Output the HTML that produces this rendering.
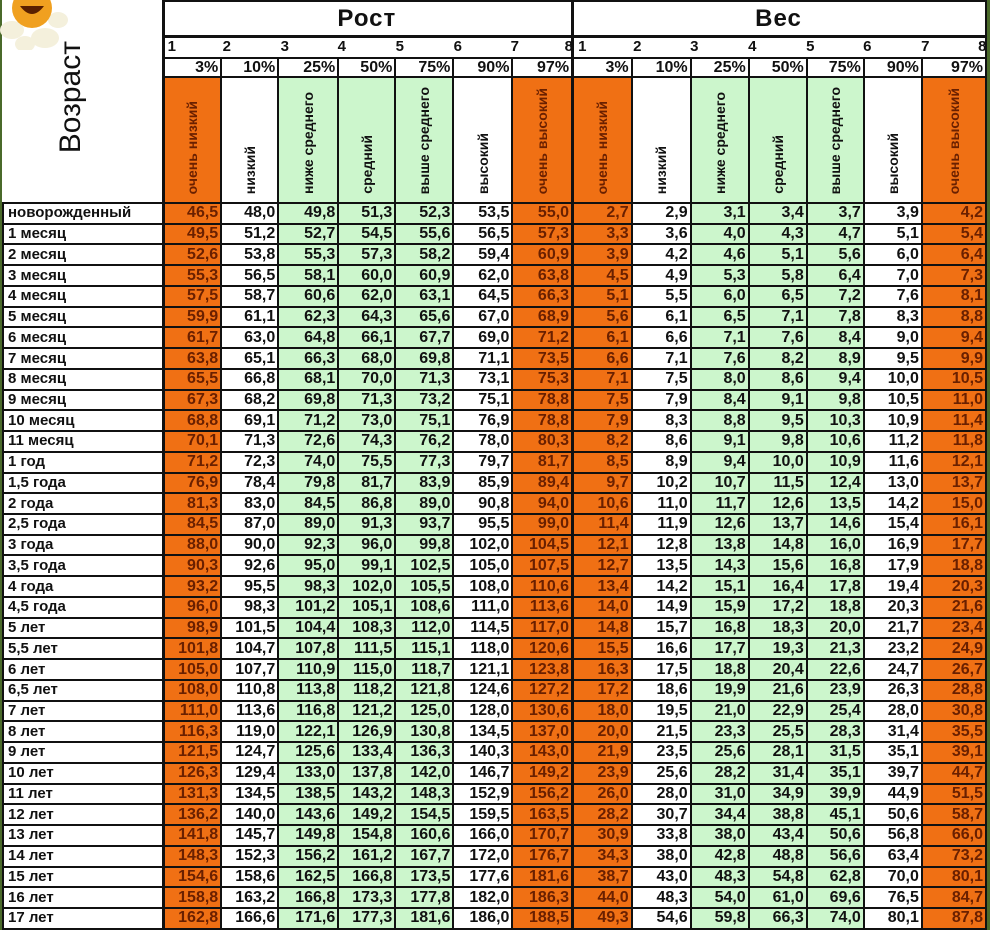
<!DOCTYPE html>
<html><head><meta charset="utf-8"><style>
html,body{margin:0;padding:0;}
body{width:990px;height:930px;background:#4a6a2a;position:relative;overflow:hidden;font-family:"Liberation Sans",Arial,sans-serif;}
table{position:absolute;left:2px;top:0;border-collapse:collapse;table-layout:fixed;width:985px;background:#fff;}
td{border:2px solid #111;padding:0 2px 0 0;font-weight:bold;font-size:16px;text-align:right;white-space:nowrap;overflow:hidden;line-height:16px;color:#111;}
tr.d td{height:18.74px;}
td.n{text-align:left;padding-left:4px;font-size:15px;}
td.o{background:#f07014;color:#6a2000;}
td.g{background:#ccf6cc;}
td.w{background:#fff;}
.th{font-size:24px;text-align:center;height:33px;border-bottom:3px solid #111;letter-spacing:1px;}
.num{height:19px;position:relative;padding:0;}
.num span{position:absolute;top:1px;font-size:15px;}
.pc td{height:17px;font-size:16px;}
.lab td{height:124px;vertical-align:bottom;text-align:center;padding:0;}
.v{writing-mode:vertical-rl;transform:rotate(180deg);font-size:14px;display:inline-block;padding-top:4px;}
.vz{writing-mode:vertical-rl;transform:rotate(180deg);font-size:30px;font-weight:normal;display:inline-block;}
.thick{border-left:3px solid #111;}
.flower{position:absolute;left:0;top:0;width:70px;height:50px;}
</style></head><body>
<table>
<colgroup><col style="width:160px"><col style="width:58px"><col style="width:57px"><col style="width:60px"><col style="width:57px"><col style="width:58px"><col style="width:59px"><col style="width:60px"><col style="width:59px"><col style="width:59px"><col style="width:58px"><col style="width:58px"><col style="width:57px"><col style="width:58px"><col style="width:64px"></colgroup>
<tr><td rowspan="4" style="border-left:none;border-top:none;text-align:left;vertical-align:top;padding:40px 0 0 60px;"><span class="vz">Возраст</span></td><td colspan="7" class="th thick">Рост</td><td colspan="7" class="th thick">Вес</td></tr>
<tr><td colspan="7" class="num thick"><span style="left:3px">1</span><span style="left:58px">2</span><span style="left:116px">3</span><span style="left:173px">4</span><span style="left:231px">5</span><span style="left:289px">6</span><span style="left:346px">7</span><span style="left:400px">8</span></td><td colspan="7" class="num thick"><span style="left:4px">1</span><span style="left:59px">2</span><span style="left:116px">3</span><span style="left:174px">4</span><span style="left:232px">5</span><span style="left:289px">6</span><span style="left:347px">7</span><span style="left:404px">8</span></td></tr>
<tr class="pc"><td class="thick">3%</td><td>10%</td><td>25%</td><td>50%</td><td>75%</td><td>90%</td><td>97%</td><td class="thick">3%</td><td>10%</td><td>25%</td><td>50%</td><td>75%</td><td>90%</td><td>97%</td></tr>
<tr class="lab"><td class="o thick"><span class="v">очень низкий</span></td><td class="w"><span class="v">низкий</span></td><td class="g"><span class="v">ниже среднего</span></td><td class="g"><span class="v">средний</span></td><td class="g"><span class="v">выше среднего</span></td><td class="w"><span class="v">высокий</span></td><td class="o"><span class="v">очень высокий</span></td><td class="o thick"><span class="v">очень низкий</span></td><td class="w"><span class="v">низкий</span></td><td class="g"><span class="v">ниже среднего</span></td><td class="g"><span class="v">средний</span></td><td class="g"><span class="v">выше среднего</span></td><td class="w"><span class="v">высокий</span></td><td class="o"><span class="v">очень высокий</span></td></tr>
<tr class="d"><td class="n">новорожденный</td><td class="o thick">46,5</td><td class="w">48,0</td><td class="g">49,8</td><td class="g">51,3</td><td class="g">52,3</td><td class="w">53,5</td><td class="o">55,0</td><td class="o thick">2,7</td><td class="w">2,9</td><td class="g">3,1</td><td class="g">3,4</td><td class="g">3,7</td><td class="w">3,9</td><td class="o">4,2</td></tr>
<tr class="d"><td class="n">1 месяц</td><td class="o thick">49,5</td><td class="w">51,2</td><td class="g">52,7</td><td class="g">54,5</td><td class="g">55,6</td><td class="w">56,5</td><td class="o">57,3</td><td class="o thick">3,3</td><td class="w">3,6</td><td class="g">4,0</td><td class="g">4,3</td><td class="g">4,7</td><td class="w">5,1</td><td class="o">5,4</td></tr>
<tr class="d"><td class="n">2 месяц</td><td class="o thick">52,6</td><td class="w">53,8</td><td class="g">55,3</td><td class="g">57,3</td><td class="g">58,2</td><td class="w">59,4</td><td class="o">60,9</td><td class="o thick">3,9</td><td class="w">4,2</td><td class="g">4,6</td><td class="g">5,1</td><td class="g">5,6</td><td class="w">6,0</td><td class="o">6,4</td></tr>
<tr class="d"><td class="n">3 месяц</td><td class="o thick">55,3</td><td class="w">56,5</td><td class="g">58,1</td><td class="g">60,0</td><td class="g">60,9</td><td class="w">62,0</td><td class="o">63,8</td><td class="o thick">4,5</td><td class="w">4,9</td><td class="g">5,3</td><td class="g">5,8</td><td class="g">6,4</td><td class="w">7,0</td><td class="o">7,3</td></tr>
<tr class="d"><td class="n">4 месяц</td><td class="o thick">57,5</td><td class="w">58,7</td><td class="g">60,6</td><td class="g">62,0</td><td class="g">63,1</td><td class="w">64,5</td><td class="o">66,3</td><td class="o thick">5,1</td><td class="w">5,5</td><td class="g">6,0</td><td class="g">6,5</td><td class="g">7,2</td><td class="w">7,6</td><td class="o">8,1</td></tr>
<tr class="d"><td class="n">5 месяц</td><td class="o thick">59,9</td><td class="w">61,1</td><td class="g">62,3</td><td class="g">64,3</td><td class="g">65,6</td><td class="w">67,0</td><td class="o">68,9</td><td class="o thick">5,6</td><td class="w">6,1</td><td class="g">6,5</td><td class="g">7,1</td><td class="g">7,8</td><td class="w">8,3</td><td class="o">8,8</td></tr>
<tr class="d"><td class="n">6 месяц</td><td class="o thick">61,7</td><td class="w">63,0</td><td class="g">64,8</td><td class="g">66,1</td><td class="g">67,7</td><td class="w">69,0</td><td class="o">71,2</td><td class="o thick">6,1</td><td class="w">6,6</td><td class="g">7,1</td><td class="g">7,6</td><td class="g">8,4</td><td class="w">9,0</td><td class="o">9,4</td></tr>
<tr class="d"><td class="n">7 месяц</td><td class="o thick">63,8</td><td class="w">65,1</td><td class="g">66,3</td><td class="g">68,0</td><td class="g">69,8</td><td class="w">71,1</td><td class="o">73,5</td><td class="o thick">6,6</td><td class="w">7,1</td><td class="g">7,6</td><td class="g">8,2</td><td class="g">8,9</td><td class="w">9,5</td><td class="o">9,9</td></tr>
<tr class="d"><td class="n">8 месяц</td><td class="o thick">65,5</td><td class="w">66,8</td><td class="g">68,1</td><td class="g">70,0</td><td class="g">71,3</td><td class="w">73,1</td><td class="o">75,3</td><td class="o thick">7,1</td><td class="w">7,5</td><td class="g">8,0</td><td class="g">8,6</td><td class="g">9,4</td><td class="w">10,0</td><td class="o">10,5</td></tr>
<tr class="d"><td class="n">9 месяц</td><td class="o thick">67,3</td><td class="w">68,2</td><td class="g">69,8</td><td class="g">71,3</td><td class="g">73,2</td><td class="w">75,1</td><td class="o">78,8</td><td class="o thick">7,5</td><td class="w">7,9</td><td class="g">8,4</td><td class="g">9,1</td><td class="g">9,8</td><td class="w">10,5</td><td class="o">11,0</td></tr>
<tr class="d"><td class="n">10 месяц</td><td class="o thick">68,8</td><td class="w">69,1</td><td class="g">71,2</td><td class="g">73,0</td><td class="g">75,1</td><td class="w">76,9</td><td class="o">78,8</td><td class="o thick">7,9</td><td class="w">8,3</td><td class="g">8,8</td><td class="g">9,5</td><td class="g">10,3</td><td class="w">10,9</td><td class="o">11,4</td></tr>
<tr class="d"><td class="n">11 месяц</td><td class="o thick">70,1</td><td class="w">71,3</td><td class="g">72,6</td><td class="g">74,3</td><td class="g">76,2</td><td class="w">78,0</td><td class="o">80,3</td><td class="o thick">8,2</td><td class="w">8,6</td><td class="g">9,1</td><td class="g">9,8</td><td class="g">10,6</td><td class="w">11,2</td><td class="o">11,8</td></tr>
<tr class="d"><td class="n">1 год</td><td class="o thick">71,2</td><td class="w">72,3</td><td class="g">74,0</td><td class="g">75,5</td><td class="g">77,3</td><td class="w">79,7</td><td class="o">81,7</td><td class="o thick">8,5</td><td class="w">8,9</td><td class="g">9,4</td><td class="g">10,0</td><td class="g">10,9</td><td class="w">11,6</td><td class="o">12,1</td></tr>
<tr class="d"><td class="n">1,5 года</td><td class="o thick">76,9</td><td class="w">78,4</td><td class="g">79,8</td><td class="g">81,7</td><td class="g">83,9</td><td class="w">85,9</td><td class="o">89,4</td><td class="o thick">9,7</td><td class="w">10,2</td><td class="g">10,7</td><td class="g">11,5</td><td class="g">12,4</td><td class="w">13,0</td><td class="o">13,7</td></tr>
<tr class="d"><td class="n">2 года</td><td class="o thick">81,3</td><td class="w">83,0</td><td class="g">84,5</td><td class="g">86,8</td><td class="g">89,0</td><td class="w">90,8</td><td class="o">94,0</td><td class="o thick">10,6</td><td class="w">11,0</td><td class="g">11,7</td><td class="g">12,6</td><td class="g">13,5</td><td class="w">14,2</td><td class="o">15,0</td></tr>
<tr class="d"><td class="n">2,5 года</td><td class="o thick">84,5</td><td class="w">87,0</td><td class="g">89,0</td><td class="g">91,3</td><td class="g">93,7</td><td class="w">95,5</td><td class="o">99,0</td><td class="o thick">11,4</td><td class="w">11,9</td><td class="g">12,6</td><td class="g">13,7</td><td class="g">14,6</td><td class="w">15,4</td><td class="o">16,1</td></tr>
<tr class="d"><td class="n">3 года</td><td class="o thick">88,0</td><td class="w">90,0</td><td class="g">92,3</td><td class="g">96,0</td><td class="g">99,8</td><td class="w">102,0</td><td class="o">104,5</td><td class="o thick">12,1</td><td class="w">12,8</td><td class="g">13,8</td><td class="g">14,8</td><td class="g">16,0</td><td class="w">16,9</td><td class="o">17,7</td></tr>
<tr class="d"><td class="n">3,5 года</td><td class="o thick">90,3</td><td class="w">92,6</td><td class="g">95,0</td><td class="g">99,1</td><td class="g">102,5</td><td class="w">105,0</td><td class="o">107,5</td><td class="o thick">12,7</td><td class="w">13,5</td><td class="g">14,3</td><td class="g">15,6</td><td class="g">16,8</td><td class="w">17,9</td><td class="o">18,8</td></tr>
<tr class="d"><td class="n">4 года</td><td class="o thick">93,2</td><td class="w">95,5</td><td class="g">98,3</td><td class="g">102,0</td><td class="g">105,5</td><td class="w">108,0</td><td class="o">110,6</td><td class="o thick">13,4</td><td class="w">14,2</td><td class="g">15,1</td><td class="g">16,4</td><td class="g">17,8</td><td class="w">19,4</td><td class="o">20,3</td></tr>
<tr class="d"><td class="n">4,5 года</td><td class="o thick">96,0</td><td class="w">98,3</td><td class="g">101,2</td><td class="g">105,1</td><td class="g">108,6</td><td class="w">111,0</td><td class="o">113,6</td><td class="o thick">14,0</td><td class="w">14,9</td><td class="g">15,9</td><td class="g">17,2</td><td class="g">18,8</td><td class="w">20,3</td><td class="o">21,6</td></tr>
<tr class="d"><td class="n">5 лет</td><td class="o thick">98,9</td><td class="w">101,5</td><td class="g">104,4</td><td class="g">108,3</td><td class="g">112,0</td><td class="w">114,5</td><td class="o">117,0</td><td class="o thick">14,8</td><td class="w">15,7</td><td class="g">16,8</td><td class="g">18,3</td><td class="g">20,0</td><td class="w">21,7</td><td class="o">23,4</td></tr>
<tr class="d"><td class="n">5,5 лет</td><td class="o thick">101,8</td><td class="w">104,7</td><td class="g">107,8</td><td class="g">111,5</td><td class="g">115,1</td><td class="w">118,0</td><td class="o">120,6</td><td class="o thick">15,5</td><td class="w">16,6</td><td class="g">17,7</td><td class="g">19,3</td><td class="g">21,3</td><td class="w">23,2</td><td class="o">24,9</td></tr>
<tr class="d"><td class="n">6 лет</td><td class="o thick">105,0</td><td class="w">107,7</td><td class="g">110,9</td><td class="g">115,0</td><td class="g">118,7</td><td class="w">121,1</td><td class="o">123,8</td><td class="o thick">16,3</td><td class="w">17,5</td><td class="g">18,8</td><td class="g">20,4</td><td class="g">22,6</td><td class="w">24,7</td><td class="o">26,7</td></tr>
<tr class="d"><td class="n">6,5 лет</td><td class="o thick">108,0</td><td class="w">110,8</td><td class="g">113,8</td><td class="g">118,2</td><td class="g">121,8</td><td class="w">124,6</td><td class="o">127,2</td><td class="o thick">17,2</td><td class="w">18,6</td><td class="g">19,9</td><td class="g">21,6</td><td class="g">23,9</td><td class="w">26,3</td><td class="o">28,8</td></tr>
<tr class="d"><td class="n">7 лет</td><td class="o thick">111,0</td><td class="w">113,6</td><td class="g">116,8</td><td class="g">121,2</td><td class="g">125,0</td><td class="w">128,0</td><td class="o">130,6</td><td class="o thick">18,0</td><td class="w">19,5</td><td class="g">21,0</td><td class="g">22,9</td><td class="g">25,4</td><td class="w">28,0</td><td class="o">30,8</td></tr>
<tr class="d"><td class="n">8 лет</td><td class="o thick">116,3</td><td class="w">119,0</td><td class="g">122,1</td><td class="g">126,9</td><td class="g">130,8</td><td class="w">134,5</td><td class="o">137,0</td><td class="o thick">20,0</td><td class="w">21,5</td><td class="g">23,3</td><td class="g">25,5</td><td class="g">28,3</td><td class="w">31,4</td><td class="o">35,5</td></tr>
<tr class="d"><td class="n">9 лет</td><td class="o thick">121,5</td><td class="w">124,7</td><td class="g">125,6</td><td class="g">133,4</td><td class="g">136,3</td><td class="w">140,3</td><td class="o">143,0</td><td class="o thick">21,9</td><td class="w">23,5</td><td class="g">25,6</td><td class="g">28,1</td><td class="g">31,5</td><td class="w">35,1</td><td class="o">39,1</td></tr>
<tr class="d"><td class="n">10 лет</td><td class="o thick">126,3</td><td class="w">129,4</td><td class="g">133,0</td><td class="g">137,8</td><td class="g">142,0</td><td class="w">146,7</td><td class="o">149,2</td><td class="o thick">23,9</td><td class="w">25,6</td><td class="g">28,2</td><td class="g">31,4</td><td class="g">35,1</td><td class="w">39,7</td><td class="o">44,7</td></tr>
<tr class="d"><td class="n">11 лет</td><td class="o thick">131,3</td><td class="w">134,5</td><td class="g">138,5</td><td class="g">143,2</td><td class="g">148,3</td><td class="w">152,9</td><td class="o">156,2</td><td class="o thick">26,0</td><td class="w">28,0</td><td class="g">31,0</td><td class="g">34,9</td><td class="g">39,9</td><td class="w">44,9</td><td class="o">51,5</td></tr>
<tr class="d"><td class="n">12 лет</td><td class="o thick">136,2</td><td class="w">140,0</td><td class="g">143,6</td><td class="g">149,2</td><td class="g">154,5</td><td class="w">159,5</td><td class="o">163,5</td><td class="o thick">28,2</td><td class="w">30,7</td><td class="g">34,4</td><td class="g">38,8</td><td class="g">45,1</td><td class="w">50,6</td><td class="o">58,7</td></tr>
<tr class="d"><td class="n">13 лет</td><td class="o thick">141,8</td><td class="w">145,7</td><td class="g">149,8</td><td class="g">154,8</td><td class="g">160,6</td><td class="w">166,0</td><td class="o">170,7</td><td class="o thick">30,9</td><td class="w">33,8</td><td class="g">38,0</td><td class="g">43,4</td><td class="g">50,6</td><td class="w">56,8</td><td class="o">66,0</td></tr>
<tr class="d"><td class="n">14 лет</td><td class="o thick">148,3</td><td class="w">152,3</td><td class="g">156,2</td><td class="g">161,2</td><td class="g">167,7</td><td class="w">172,0</td><td class="o">176,7</td><td class="o thick">34,3</td><td class="w">38,0</td><td class="g">42,8</td><td class="g">48,8</td><td class="g">56,6</td><td class="w">63,4</td><td class="o">73,2</td></tr>
<tr class="d"><td class="n">15 лет</td><td class="o thick">154,6</td><td class="w">158,6</td><td class="g">162,5</td><td class="g">166,8</td><td class="g">173,5</td><td class="w">177,6</td><td class="o">181,6</td><td class="o thick">38,7</td><td class="w">43,0</td><td class="g">48,3</td><td class="g">54,8</td><td class="g">62,8</td><td class="w">70,0</td><td class="o">80,1</td></tr>
<tr class="d"><td class="n">16 лет</td><td class="o thick">158,8</td><td class="w">163,2</td><td class="g">166,8</td><td class="g">173,3</td><td class="g">177,8</td><td class="w">182,0</td><td class="o">186,3</td><td class="o thick">44,0</td><td class="w">48,3</td><td class="g">54,0</td><td class="g">61,0</td><td class="g">69,6</td><td class="w">76,5</td><td class="o">84,7</td></tr>
<tr class="d"><td class="n">17 лет</td><td class="o thick">162,8</td><td class="w">166,6</td><td class="g">171,6</td><td class="g">177,3</td><td class="g">181,6</td><td class="w">186,0</td><td class="o">188,5</td><td class="o thick">49,3</td><td class="w">54,6</td><td class="g">59,8</td><td class="g">66,3</td><td class="g">74,0</td><td class="w">80,1</td><td class="o">87,8</td></tr>
</table>
<svg class="flower" viewBox="0 0 70 50"><g fill="#f4f0dc"><ellipse cx="12" cy="30" rx="12" ry="9"/><ellipse cx="45" cy="38" rx="14" ry="10"/><ellipse cx="25" cy="44" rx="10" ry="8"/><ellipse cx="58" cy="20" rx="10" ry="8"/></g><circle cx="32" cy="8" r="20" fill="#f0a020"/><path d="M20 6 Q32 22 44 6" fill="#5a2000"/></svg>
</body></html>
